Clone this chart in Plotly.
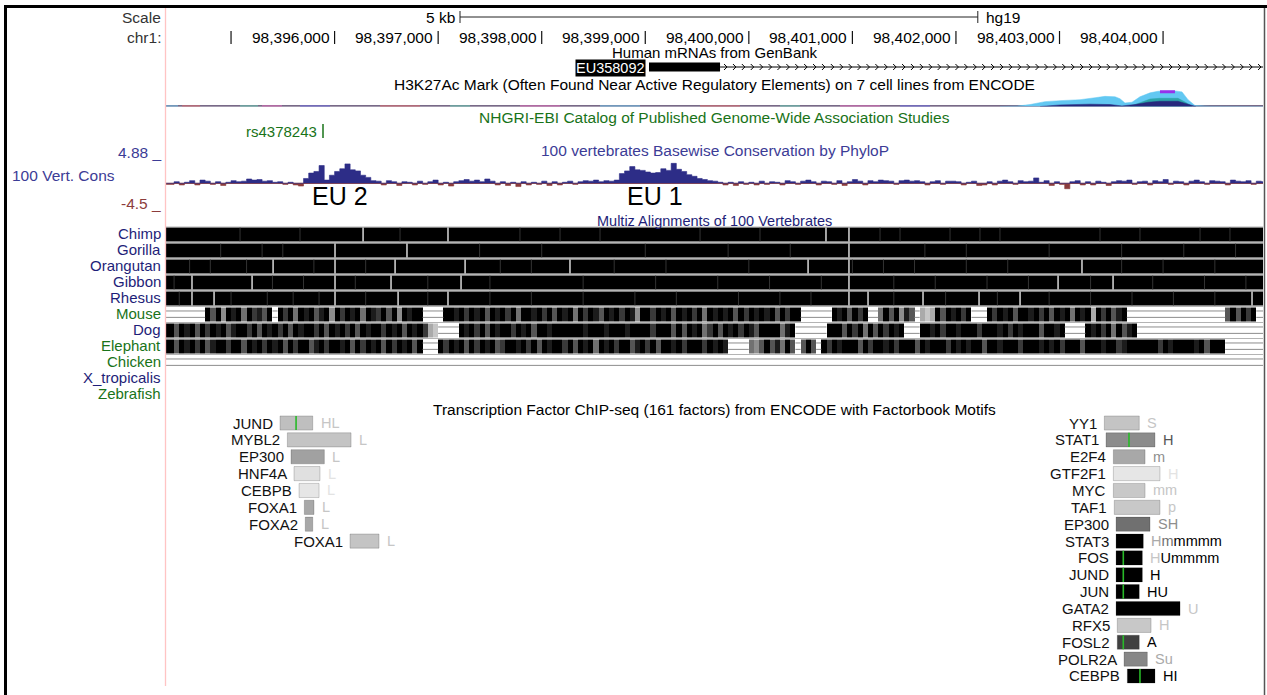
import plotly.graph_objects as go

W, H = 1267, 695
FONT = "Liberation Sans, Arial, sans-serif"

# ---------------- genomic window (hg19 chr1) ----------------
VIEW_LO, VIEW_HI = 98394372, 98404965
TRACK_LEFT_PX, TRACK_RIGHT_PX = 166, 1263

CHR_TICKS = [98395000, 98396000, 98397000, 98398000, 98399000,
             98400000, 98401000, 98402000, 98403000, 98404000]
CHR_TICK_LABELS = ["", "98,396,000", "98,397,000", "98,398,000", "98,399,000",
                   "98,400,000", "98,401,000", "98,402,000", "98,403,000", "98,404,000"]
SCALE_BAR_START = 98397211
SCALE_BAR_LEN = 5000

# ---------------- Human mRNA ----------------
GENE_NAME = "EU358092"
GENE_EXON_START, GENE_EXON_END = 98399036, 98399722
GENE_TX_END = 98404965

# ---------------- H3K27Ac (7 ENCODE cell lines, overlaid) ----------------
H3_HUVEC_POS = [98402425, 98402590, 98402715, 98402860, 98403005, 98403198, 98403343,
                98403439, 98403536, 98403584, 98403632, 98403700, 98403777, 98403874,
                98403951, 98404115, 98404183, 98404241, 98404308, 98404453, 98404965]
H3_HUVEC_VAL = [0, 2, 10, 25, 30, 35, 45, 52, 50, 40, 18, 22, 50, 70, 78, 80, 75, 35, 5, 1, 0]
H3_HSMM_POS = [98403681, 98403777, 98403874, 98403970, 98404144, 98404221, 98404279]
H3_HSMM_VAL = [0, 20, 38, 42, 42, 20, 0]
H3_OVERLAP_POS = [98402812, 98403005, 98403295, 98403488, 98403603, 98403729,
                  98403855, 98403970, 98404144, 98404241, 98404317]
H3_OVERLAP_VAL = [0, 8, 12, 10, 3, 10, 22, 27, 27, 10, 0]
H3_NHEK_POS = [98403970, 98404115]
H3_NHEK_VAL = [76, 76]
H3_BASE_VAL = 2
H3_SPECKLE_START = [98394372, 98394527, 98395087, 98395299, 98395666, 98396439,
                    98397115, 98397790, 98398563, 98399529, 98400301, 98400880, 98401460]
H3_SPECKLE_END = [98394488, 98394701, 98395261, 98395492, 98395956, 98396825,
                  98397308, 98398177, 98398949, 98399915, 98400494, 98401267, 98401749]
H3_SPECKLE_CELL = ["HUVEC", "GM12878", "HSMM", "NHLF", "K562", "GM12878",
                   "HSMM", "NHLF", "HUVEC", "GM12878", "HSMM", "NHLF", "K562"]
H3_CELL_COLOR = {"GM12878": "rgb(230,110,110)", "H1-hESC": "rgb(255,212,128)",
                 "HSMM": "rgb(100,210,180)", "HUVEC": "rgb(110,200,240)",
                 "K562": "rgb(110,110,230)", "NHEK": "rgb(150,50,235)",
                 "NHLF": "rgb(230,110,190)"}

# ---------------- GWAS catalog ----------------
GWAS_SNPS = ["rs4378243"]
GWAS_POS = [98395888]

# ---------------- PhyloP 100-way (50 bp bins) ----------------
PHYLOP_BIN0 = 98394400
PHYLOP_BIN = 50
PHYLOP = [
    -0.2, 0.3, -0.3, 0.2, 0.5, -0.3, 0.6, 0.4, -0.2, 0.3,
    -0.4, 0.2, 0.5, 0.3, 0.4, 0.8, 0.6, 0.7, 0.4, 0.5,
    0.2, 0.3, -0.2, 0.2, -0.3, -0.5, 0.9, 1.9, 2.2, 3.3,
    0.6, 1.5, 2.2, 2.7, 3.6, 2.5, 2.3, 1.5, 1.1, 0.5,
    0.4, -0.3, 0.5, 0.3, -0.4, 0.3, 0.2, -0.3, 0.4, -0.2,
    0.3, 0.6, -0.3, 0.2, -0.5, 0.3, 0.5, 0.7, 0.4, 0.6,
    0.3, 0.8, 0.4, -0.3, 0.3, -0.4, 0.2, -0.6, 0.3, -0.3,
    0.2, -0.2, 0.4, -0.4, 0.3, -0.3, 0.2, 0.4, -0.2, 0.3,
    0.5, 0.4, 0.6, 0.3, 0.5, 0.4, 0.6, 1.8, 2.3, 3.1,
    2.5, 2.4, 2.1, 1.9, 2.0, 2.7, 2.4, 3.7, 2.6, 2.2,
    1.6, 1.3, 0.9, 0.7, 0.5, 0.4, 0.2, -0.3, 0.2, -0.4,
    0.3, -0.2, 0.2, -0.3, 0.4, -0.2, 0.3, 0.2, -0.3, 0.5,
    0.3, -0.2, 0.4, 0.6, 0.3, -0.3, 0.4, 0.3, -0.2, 0.5,
    -0.4, 0.3, 0.7, 0.4, -0.3, 0.5, 0.3, 0.6, 0.5, 0.4,
    -0.2, 0.5, 0.6, 0.4, 0.5, 0.3, -0.3, 0.3, 0.5, -0.2,
    0.4, 0.4, 0.3, -0.3, 0.2, 0.4, -0.4, -0.3, 0.3, -0.3,
    0.4, 0.6, 0.3, -0.2, 0.5, 0.3, 0.4, 1.0, 0.2, 0.5,
    -0.4, 0.3, -0.2, -1.0, 0.3, 0.5, -0.3, 0.3, -0.3, 0.4,
    0.2, -0.4, 0.3, 0.5, 0.4, 0.6, -0.2, 0.3, 0.4, -0.3,
    0.5, 0.3, 0.7, -0.2, 0.4, 0.3, -0.3, 0.4, 0.6, 0.3,
    -0.2, 0.5, 0.4, 0.3, -0.3, 0.6, 0.4, 0.3, 0.5, -0.2,
    0.4, 0.3,
]
PHYLOP_MAX, PHYLOP_MIN = 4.88, -4.5
EU_LABELS = ["EU 2", "EU 1"]
EU_POS = [98396052, 98399094]

# ---------------- Multiz 100-way (same 50 bp bins) ----------------
# digits = alignment shade (9 = black), "=" = unaligned chain gap, " " = nothing
SPECIES = ["Chimp", "Gorilla", "Orangutan", "Gibbon", "Rhesus", "Mouse",
           "Dog", "Elephant", "Chicken", "X_tropicalis", "Zebrafish"]
NBINS = len(PHYLOP)
PRIMATE_ROW = "9" * NBINS
MOUSE_ROW = ("=======" + "9694989597869" + "=" + "9795989689" "4979895987" "96949899"
             + "====" + "9989798969" "8979599897" "9698959798" "6989798499" "7989698979"
             "5989896979" "898969799" + "======" + "9896979" + "==" + "5969486" + "="
             + "323" + "9698979" + "===" + "9798969989" "7969895989" + "3" + "979689"
             + "=" * 19 + "696979" + "==")
DOG_ROW = ("9698969798" "9689979698" "9796989979" "6989796989" "9798969897" + "32" + "===="
           + "9897969899" "7989699899" "9999899989" "9989999799" "9696989579" "6989798699" "99589"
           + "======" + "999697959697989" + "===" + "9989799899" "9799989798" "99969989"
           + "====" + "9897959689" + "=" * 25)
ELEPHANT_ROW = ("9698979689" "9799698979" "8969799689" "7998969798" "969798969" + "==="
                + "9798969798" "9679989796" "9899796989" "5989799689" "7969989799" "979898"
                + "====" + "546968596" + "=" + "696" + "="
                + "9798999697" "9989799969" "8999798989" "9699899979" "9989897999"
                "6999899789" "9999979899" "99896999" + "========")
CHICKEN_ROW = "=" * NBINS
XTROP_ROW = " " * NBINS
ZEBRAFISH_ROW = " " * NBINS

CHIMP_BREAKS = [98396275, 98397095, 98400745, 98400967]
GORILLA_BREAKS = [98396004, 98396699, 98400967]
ORANGUTAN_BREAKS = [98395406, 98396004, 98396584, 98397260, 98398273, 98400572, 98400967, 98403217]
GIBBON_BREAKS = [98394623, 98395203, 98396004, 98396545, 98397221, 98400967, 98402986, 98403517]
RHESUS_BREAKS = [98394623, 98394836, 98396004, 98396613, 98397095, 98400967, 98401151,
                 98401682, 98402223, 98402619, 98404859]
CHIMP_FAINT = [98395087, 98395666, 98396632, 98397790, 98398177, 98398563, 98399529, 98400108,
               98401267, 98401460, 98401943, 98402232, 98402425, 98403391, 98403777, 98404357, 98404646]
GORILLA_FAINT = [98394900, 98395300, 98395500, 98397400, 98398000, 98399000, 98399800, 98400400,
                 98401700, 98402100, 98402900, 98403600, 98404200, 98404700]
ORANGUTAN_FAINT = [98394600, 98394800, 98395150, 98395800, 98396300, 98397600, 98397900, 98398700,
                   98399200, 98400000, 98401000, 98401300, 98401600, 98402100, 98402500, 98403600,
                   98404000, 98404500]
GIBBON_FAINT = [98394450, 98395400, 98395700, 98396200, 98396900, 98397500, 98398400, 98399100,
                98399700, 98400200, 98400700, 98401400, 98401800, 98402300, 98402700, 98403300,
                98403900, 98404400, 98404800]
RHESUS_FAINT = [98394500, 98395000, 98395350, 98395600, 98395850, 98396300, 98396900, 98397500,
                98397900, 98398400, 98398900, 98399300, 98399900, 98400300, 98400600, 98401400,
                98401900, 98402400, 98402900, 98403300, 98403700, 98404100, 98404500]

# ---------------- TF ChIP-seq clusters ----------------
TF_NAME = ["JUND", "MYBL2", "EP300", "HNF4A", "CEBPB", "FOXA1", "FOXA2", "FOXA1",
           "YY1", "STAT1", "E2F4", "GTF2F1", "MYC", "TAF1", "EP300", "STAT3", "FOS",
           "JUND", "JUN", "GATA2", "RFX5", "FOSL2", "POLR2A", "CEBPB"]
TF_ROW = [0, 1, 2, 3, 4, 5, 6, 7,
          0, 1, 2, 3, 4, 5, 6, 7, 8, 9, 10, 11, 12, 13, 14, 15]
TF_START = [98395473, 98395544, 98395579, 98395608, 98395657, 98395708, 98395717, 98396149,
            98403433, 98403449, 98403520, 98403520, 98403520, 98403529, 98403546, 98403546,
            98403546, 98403546, 98403546, 98403546, 98403558, 98403558, 98403623, 98403655]
TF_END = [98395789, 98396159, 98395901, 98395859, 98395850, 98395801, 98395789, 98396429,
          98403770, 98403922, 98403826, 98403970, 98403826, 98403970, 98403874, 98403809,
          98403800, 98403800, 98403770, 98404164, 98403884, 98403770, 98403848, 98403922]
TF_SCORE = [250, 230, 370, 120, 100, 340, 340, 230,
            230, 450, 340, 100, 215, 215, 560, 1000, 1000, 1000, 1000, 1000, 215, 750, 470, 1000]
TF_MOTIF = [98395628, None, None, None, None, None, None, None,
            None, 98403671, None, None, None, None, None, None, 98403616,
            98403616, 98403616, None, None, 98403616, None, 98403777]
TF_CELLS = ["HL", "L", "L", "L", "L", "L", "L", "L",
            "S", "H", "m", "H", "mm", "p", "SH", "Hmmmmm", "HUmmmm", "H", "HU", "U", "H", "A", "Su", "HI"]
TF_CELL_SHADE = ["22", "2", "2", "1", "1", "2", "2", "2",
                 "2", "6", "4", "1", "22", "2", "44", "359999", "299999", "9", "99", "2", "2", "9", "33", "99"]

# ---------------- colours / text sizes ----------------
NAVY = "rgb(30,30,120)"
GREEN = "rgb(25,115,25)"
CONS_BLUE = "rgb(60,60,150)"
PHYLOP_POS_C = "rgb(45,45,135)"
PHYLOP_NEG_C = "rgb(140,60,60)"
SPECIES_COLOR = [NAVY, NAVY, NAVY, NAVY, NAVY, GREEN, NAVY, GREEN, GREEN, NAVY, GREEN]
TXT = 15.5       # track titles, ruler, side labels
TXT_ROW = 15     # species / factor names

BP_PER_PX = (VIEW_HI - VIEW_LO) / (TRACK_RIGHT_PX - TRACK_LEFT_PX)


def fx(px):
    return px / W


def fy(py):
    return 1 - py / H


def gray(level, top):
    g = round(255 * (1 - level / top))
    return f"rgb({g},{g},{g})"


def segments(x0s, x1s, y0s, y1s):
    xs, ys = [], []
    for a, b, c, d in zip(x0s, x1s, y0s, y1s):
        xs += [a, b, None]
        ys += [c, d, None]
    return xs, ys


fig = go.Figure()
annotations = []
shapes = []


def label(s, x, y, xref="paper", yref="y", size=TXT, color="#000", anchor="center", xshift=0, **kw):
    annotations.append(dict(text=s, x=x, y=y, xref=xref, yref=yref, xanchor=anchor,
                            yanchor="middle", showarrow=False, xshift=xshift,
                            font=dict(family=FONT, size=size, color=color), **kw))


def lines(xs, ys, color, width, yaxis="y"):
    fig.add_trace(go.Scatter(x=xs, y=ys, yaxis=yaxis, mode="lines", hoverinfo="skip",
                             line=dict(color=color, width=width)))


XMID = (fx(TRACK_LEFT_PX) + fx(TRACK_RIGHT_PX)) / 2

# ---- browser frame ----
shapes += [
    dict(type="line", xref="paper", yref="y", x0=fx(4), x1=1, y0=6.5, y1=6.5,
         line=dict(color="black", width=3)),
    dict(type="line", xref="paper", yref="y", x0=fx(5.5), x1=fx(5.5), y0=5, y1=H,
         line=dict(color="black", width=3)),
    dict(type="line", xref="paper", yref="y", x0=fx(1264.5), x1=fx(1264.5), y0=8, y1=H,
         line=dict(color="#555", width=1.5)),
    dict(type="line", xref="paper", yref="y", x0=fx(165.5), x1=fx(165.5), y0=8, y1=686,
         line=dict(color="#ffc4c4", width=1.3)),
]

# ---- scale bar and chromosome ruler ----
label("Scale", fx(163), 17, anchor="right", color="#333")
label("chr1:", fx(163), 37, anchor="right", color="#333")
sb0, sb1 = SCALE_BAR_START, SCALE_BAR_START + SCALE_BAR_LEN
xs, ys = segments([sb0, sb0, sb1], [sb1, sb0, sb1], [17, 11, 11], [17, 23, 23])
lines(xs, ys, "#222", 1)
label("5 kb", sb0, 17, xref="x", anchor="right", xshift=-3)
label("hg19", sb1, 17, xref="x", anchor="left", xshift=6)

xs, ys = segments(CHR_TICKS, CHR_TICKS, [31] * len(CHR_TICKS), [44] * len(CHR_TICKS))
lines(xs, ys, "#111", 1.2)
for pos, txt in zip(CHR_TICKS, CHR_TICK_LABELS):
    if txt:
        label(txt, pos, 37.5, xref="x", anchor="right", xshift=-3)

# ---- Human mRNAs ----
label("Human mRNAs from GenBank", XMID, 52.5, size=15)
shapes.append(dict(type="rect", xref="x", yref="y", x0=GENE_EXON_START, x1=GENE_EXON_END,
                   y0=62.5, y1=71.5, fillcolor="black", line=dict(width=0)))
lines([GENE_EXON_END, GENE_TX_END], [67, 67], "black", 1)
chev, p = [], GENE_EXON_END + 7 * BP_PER_PX
while p < GENE_TX_END:
    chev.append(p)
    p += 8.9 * BP_PER_PX
cx, cy = [], []
for c in chev:
    cx += [c - 3 * BP_PER_PX, c, c - 3 * BP_PER_PX, None]
    cy += [64, 67, 70, None]
lines(cx, cy, "black", 1)
label(GENE_NAME, GENE_EXON_START, 68, xref="x", anchor="right", xshift=-3,
      color="white", bgcolor="black", borderpad=0, size=14.5)

# ---- H3K27Ac ----
label("H3K27Ac Mark (Often Found Near Active Regulatory Elements) on 7 cell lines from ENCODE", XMID, 84)
lines([VIEW_LO, VIEW_HI], [H3_BASE_VAL, H3_BASE_VAL], "rgb(75,55,95)", 1.6, "y2")
for s0, s1, cell in zip(H3_SPECKLE_START, H3_SPECKLE_END, H3_SPECKLE_CELL):
    lines([s0, s1], [H3_BASE_VAL, H3_BASE_VAL], H3_CELL_COLOR[cell], 1.3, "y2")
for xs_, vs_, col in [(H3_HUVEC_POS, H3_HUVEC_VAL, "rgb(98,200,242)"),
                      (H3_HSMM_POS, H3_HSMM_VAL, "rgb(45,165,170)"),
                      (H3_OVERLAP_POS, H3_OVERLAP_VAL, "rgb(40,40,125)")]:
    fig.add_trace(go.Scatter(x=xs_, y=vs_, yaxis="y2", mode="lines", fill="tozeroy",
                             fillcolor=col, line=dict(color=col, width=0.5), hoverinfo="skip"))
lines(H3_NHEK_POS, H3_NHEK_VAL, H3_CELL_COLOR["NHEK"], 3, "y2")

# ---- GWAS catalog ----
label("NHGRI-EBI Catalog of Published Genome-Wide Association Studies", XMID, 117, color=GREEN)
for name, pos in zip(GWAS_SNPS, GWAS_POS):
    lines([pos, pos], [124, 138], GREEN, 1.5)
    label(name, pos, 131, xref="x", anchor="right", xshift=-4, color=GREEN, size=15)

# ---- PhyloP conservation ----
label("100 vertebrates Basewise Conservation by PhyloP", XMID, 150, color=CONS_BLUE)
label(f"{PHYLOP_MAX} _", fx(163), 152, anchor="right", color=CONS_BLUE)
label("100 Vert. Cons", fx(10), 175, anchor="left", color=CONS_BLUE)
label(f"{PHYLOP_MIN} _", fx(163), 203, anchor="right", color=PHYLOP_NEG_C)
edges = [VIEW_LO] + [PHYLOP_BIN0 + PHYLOP_BIN * i for i in range(1, NBINS)] + [VIEW_HI]
lines([VIEW_LO, VIEW_HI], [0, 0], PHYLOP_NEG_C, 1, "y3")
pos_v = [max(v, 0) for v in PHYLOP]
neg_v = [min(v, 0) for v in PHYLOP]
for vals, col in [(neg_v, PHYLOP_NEG_C), (pos_v, PHYLOP_POS_C)]:
    fig.add_trace(go.Scatter(x=edges, y=vals + [vals[-1]], yaxis="y3", mode="lines",
                             line_shape="hv", fill="tozeroy", fillcolor=col,
                             line=dict(color=col, width=0.6), hoverinfo="skip"))
for t, pos in zip(EU_LABELS, EU_POS):
    label(t, pos, 196, xref="x", size=25, color="black")

# ---- Multiz alignments ----
label("Multiz Alignments of 100 Vertebrates", XMID, 220.5, color=NAVY, size=14.5)
rows = [PRIMATE_ROW] * 5 + [MOUSE_ROW, DOG_ROW, ELEPHANT_ROW, CHICKEN_ROW, XTROP_ROW, ZEBRAFISH_ROW]
rows = [r.ljust(NBINS)[:NBINS] for r in rows]
z = [[int(c) if c.isdigit() else None for c in r] for r in rows]
for i in range(9):
    shapes.append(dict(type="line", xref="x", yref="y4", x0=VIEW_LO, x1=VIEW_HI, y0=i, y1=i,
                       line=dict(color="#b4b4b4", width=1), layer="below"))
fig.add_trace(go.Heatmap(x=edges, y=list(range(len(rows) + 1)), z=z, yaxis="y4",
                         colorscale=[[0, "#ffffff"], [1, "#000000"]], zmin=0, zmax=9,
                         showscale=False, ygap=2, hoverinfo="skip"))
gx, gy = [], []
for i, r in enumerate(rows):
    j = 0
    while j < NBINS:
        if r[j] == "=":
            k = j
            while k < NBINS and r[k] == "=":
                k += 1
            for off in (0.28, 0.68):
                gx += [edges[j], edges[k], None]
                gy += [i + off, i + off, None]
            j = k
        else:
            j += 1
lines(gx, gy, "#8c8c8c", 1, "y4")
for i, faint in enumerate([CHIMP_FAINT, GORILLA_FAINT, ORANGUTAN_FAINT, GIBBON_FAINT, RHESUS_FAINT]):
    xs, ys = segments(faint, faint, [i + 0.07] * len(faint), [i + 0.93] * len(faint))
    lines(xs, ys, "#333333", 1, "y4")
for i, brk in enumerate([CHIMP_BREAKS, GORILLA_BREAKS, ORANGUTAN_BREAKS, GIBBON_BREAKS, RHESUS_BREAKS]):
    xs, ys = segments(brk, brk, [i + 0.07] * len(brk), [i + 0.93] * len(brk))
    lines(xs, ys, "#e8e8e8", 1.4, "y4")
for i, (sp, col) in enumerate(zip(SPECIES, SPECIES_COLOR)):
    label(sp, fx(163), i + 0.45, yref="y4", anchor="right", color=col, size=TXT_ROW)

# ---- TF ChIP-seq ----
label("Transcription Factor ChIP-seq (161 factors) from ENCODE with Factorbook Motifs", XMID, 409)
fig.add_trace(go.Bar(orientation="h", y=TF_ROW, base=TF_START,
                     x=[e - s for s, e in zip(TF_START, TF_END)], yaxis="y5", width=0.84,
                     marker=dict(color=[gray(s, 1000) for s in TF_SCORE],
                                 line=dict(color="rgba(0,0,0,0.18)", width=1)),
                     hoverinfo="skip"))
mx, my = [], []
for m, r in zip(TF_MOTIF, TF_ROW):
    if m is not None:
        mx += [m, m, None]
        my += [r - 0.42, r + 0.42, None]
lines(mx, my, "rgb(40,185,40)", 1.6, "y5")
for name, r, s, e, cells, shades in zip(TF_NAME, TF_ROW, TF_START, TF_END, TF_CELLS, TF_CELL_SHADE):
    label(name, s, r, xref="x", yref="y5", anchor="right", xshift=-5, size=TXT_ROW, color="#111")
    txt = "".join(f'<span style="color:{gray(int(d), 9)}">{c}</span>' for c, d in zip(cells, shades))
    label(txt, e, r, xref="x", yref="y5", anchor="left", xshift=6, size=14.5)

fig.update_layout(
    width=W, height=H, margin=dict(l=0, r=0, t=0, b=0),
    paper_bgcolor="white", plot_bgcolor="rgba(0,0,0,0)", showlegend=False,
    barmode="overlay",
    xaxis=dict(domain=[fx(TRACK_LEFT_PX), fx(TRACK_RIGHT_PX)], range=[VIEW_LO, VIEW_HI],
               visible=False, fixedrange=True),
    yaxis=dict(domain=[0, 1], range=[H, 0], visible=False, fixedrange=True),
    yaxis2=dict(domain=[fy(106.5), fy(87)], range=[0, 100], visible=False, anchor="x"),
    yaxis3=dict(domain=[fy(207.6), fy(157)], range=[PHYLOP_MIN, PHYLOP_MAX], visible=False, anchor="x"),
    yaxis4=dict(domain=[fy(402.5), fy(226.5)], range=[len(SPECIES), 0], visible=False, anchor="x"),
    yaxis5=dict(domain=[fy(684.4), fy(414.6)], range=[15.5, -0.5], visible=False, anchor="x"),
    annotations=annotations, shapes=shapes,
)
fig.write_html("out.html")
